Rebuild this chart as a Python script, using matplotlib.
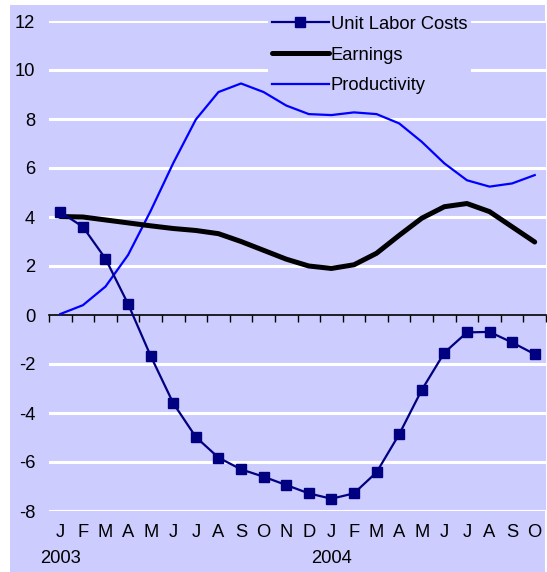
import numpy as np
import matplotlib
matplotlib.use("Agg")
import matplotlib.pyplot as plt
from matplotlib.patches import Rectangle

plt.rcParams['font.family'] = ['Liberation Sans', 'DejaVu Sans']
plt.rcParams['axes.unicode_minus'] = False

months = ["J", "F", "M", "A", "M", "J", "J", "A", "S", "O", "N", "D",
          "J", "F", "M", "A", "M", "J", "J", "A", "S", "O"]
years = {"2003": 0, "2004": 12}

unit_labor_costs = [4.2, 3.6, 2.3, 0.45, -1.67, -3.6, -4.98, -5.82, -6.3, -6.6, -6.94,
                    -7.28, -7.5, -7.28, -6.42, -4.87, -3.06, -1.54, -0.71, -0.69, -1.12, -1.6]
earnings = [4.02, 4.0, 3.88, 3.76, 3.64, 3.53, 3.45, 3.32, 3.0, 2.64, 2.28,
            2.0, 1.9, 2.05, 2.52, 3.25, 3.95, 4.42, 4.55, 4.22, 3.6, 2.98]
productivity = [0.04, 0.4, 1.16, 2.45, 4.25, 6.2, 7.98, 9.1, 9.45, 9.1, 8.55,
                8.2, 8.16, 8.27, 8.2, 7.82, 7.07, 6.19, 5.5, 5.24, 5.37, 5.71]

bg = "#CCCCFF"
W, H = 547, 572
fs = 13.2
fig = plt.figure(figsize=(W / 100, H / 100), dpi=100)
fig.patch.set_facecolor("white")
fig.patches.append(Rectangle((10 / W, 0), 535 / W, 567 / H, transform=fig.transFigure,
                             facecolor=bg, edgecolor="none", zorder=-10))

ax = fig.add_axes([49 / W, 61 / H, 497 / W, 490 / H])
ax.set_facecolor(bg)
x = np.arange(len(months))

for yv in range(-8, 13, 2):
    if yv != 0:
        ax.axhline(yv, color="white", lw=2.2, zorder=1)

ax.plot(x, productivity, color="#0000FF", lw=1.6, zorder=3, label="Productivity")
ax.plot(x, earnings, color="black", lw=3.6, zorder=3, label="Earnings",
        solid_capstyle="round")
ax.plot(x, unit_labor_costs, color="#000080", lw=1.6, marker="s", ms=7.5,
        zorder=4, label="Unit Labor Costs")

ax.set_xlim(-0.5, len(months) - 0.5)
ax.set_ylim(-8, 12)
ax.set_yticks(range(-8, 13, 2))
ax.tick_params(axis="y", length=0, pad=10, labelsize=fs)
for s in ["left", "right", "top"]:
    ax.spines[s].set_visible(False)
ax.spines["bottom"].set_position(("data", 0))
ax.spines["bottom"].set_linewidth(1.2)
ax.spines["bottom"].set_zorder(2)
ax.set_xticks(np.arange(-0.5, len(months), 1.0))
ax.tick_params(axis="x", direction="out", length=5, width=1, labelbottom=False)

xt = ax.get_xaxis_transform()
for i, m in enumerate(months):
    ax.text(x[i], -0.044, m, transform=xt, ha="center", va="center", fontsize=fs,
            clip_on=False)
for yr, i in years.items():
    ax.text(x[i], -0.096, yr, transform=xt, ha="center", va="center", fontsize=fs,
            clip_on=False)

h, l = ax.get_legend_handles_labels()
leg = ax.legend(h[::-1], l[::-1], loc="upper left", bbox_to_anchor=(259 / W, 1 - 3 / H),
                bbox_transform=fig.transFigure, fontsize=fs, handlelength=3.1,
                handletextpad=0.1, labelspacing=0.75, borderpad=0.2,
                frameon=True, facecolor=bg, edgecolor="none", framealpha=1, fancybox=False)
leg.set_zorder(2)

fig.savefig("out.png", dpi=100, facecolor=fig.get_facecolor())
